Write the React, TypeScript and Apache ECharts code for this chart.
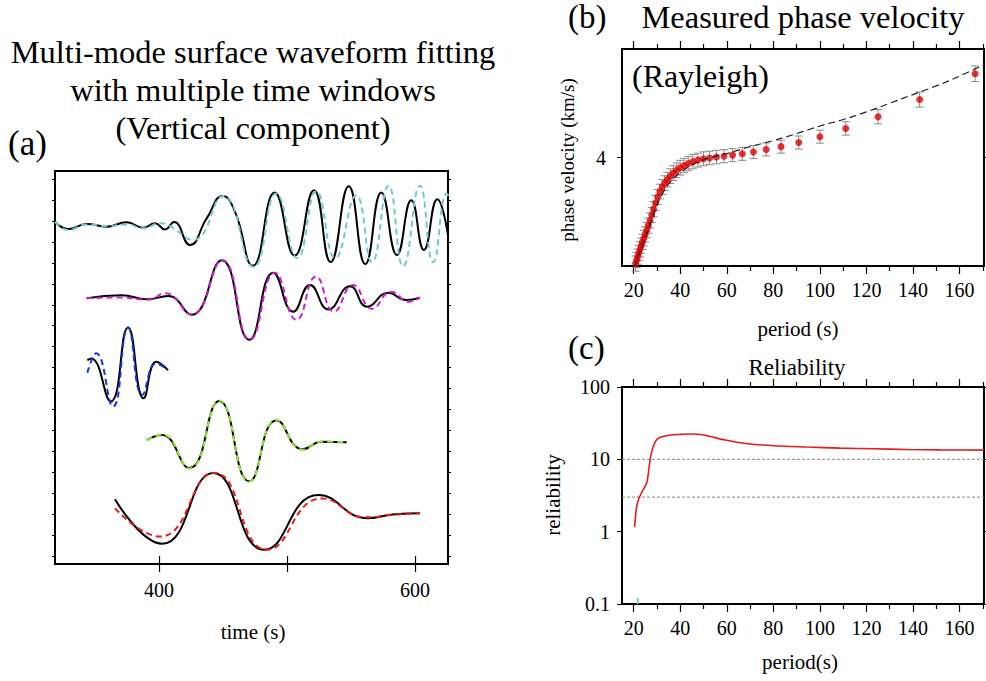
import React, { useEffect, useRef } from "react";
import * as echarts from "echarts";

const FONT = "Liberation Serif";

// ---------- Panel (a): waveforms ----------
const timeTicks = [400, 500, 600];
const timeLabels = [400, 600];
const traceYTicks = [0.38, 1.38, 2.38, 3.38, 4.38, 5.38, 6.38, 7.38, 8.38, 9.38, 10.38, 11.38, 12.38, 13.38, 14.38, 15.38, 16.38, 17.38, 18.38];
const traceBaselines = [16.33, 12.75, 9.31, 5.83, 2.39];
const traceColors = ["#6ccbce", "#cc1fcc", "#1434e6", "#8fe83c", "#e81a1a"];

const trace1Black = [[318.8, 0.01], [329.1, -0.33], [343.5, -0.09], [359.1, -0.22], [374.8, -0.01], [387.7, -0.27], [396.9, -0.06], [404.7, -0.35], [411.7, 0.01], [424.2, -1.09], [437.3, 0.18], [449.8, 1.25], [459.4, 0.49], [473.4, -2.09], [490.4, 1.41], [506.0, -1.6], [521.1, 1.52], [534.1, -1.91], [548.2, 1.71], [561.2, -2.01], [573.7, 1.41], [585.9, -1.57], [597.1, 1.04], [607.0, -1.33], [617.4, 1.09], [626.6, -0.93]];
const trace1Color = [[318.8, 0.01], [329.1, -0.38], [343.5, -0.11], [360.4, -0.19], [374.8, -0.11], [387.7, -0.3], [400.8, -0.06], [407.0, -0.14], [426.8, -0.85], [450.2, 1.25], [473.8, -2.14], [491.6, 1.36], [508.0, -1.72], [522.9, 1.47], [537.7, -1.72], [554.1, 1.28], [566.4, -1.91], [579.3, 1.74], [590.8, -2.11], [603.8, 1.74], [614.2, -1.92], [624.8, 1.36], [626.6, 1.2]];
const trace2Black = [[343.5, -0.06], [370.9, 0.09], [390.4, -0.11], [407.3, 0.05], [425.5, -0.85], [449.0, 1.76], [470.5, -2.04], [489.3, 1.16], [504.9, -0.7], [518.0, 0.57], [532.3, -0.59], [549.2, 0.52], [562.7, -0.46], [579.1, 0.21], [593.0, -0.14], [603.9, -0.03]];
const trace2Color = [[343.5, -0.06], [368.0, -0.02], [392.0, -0.12], [404.7, 0.18], [425.5, -0.83], [449.5, 1.76], [471.0, -2.04], [490.6, 1.16], [507.4, -1.09], [522.7, 0.98], [536.7, -0.7], [551.6, 0.57], [566.4, -0.56], [581.3, 0.25], [595.3, -0.22], [603.9, -0.03]];
const trace3Black = [[344.0, 0.43], [347.1, 0.51], [362.3, -1.55], [375.8, 1.98], [388.0, -1.39], [397.9, 0.35], [407.0, -0.05]];
const trace3Color = [[344.0, -0.18], [351.0, 0.75], [364.1, -1.79], [375.8, 1.98], [387.0, -1.23], [397.9, 0.27], [407.0, -0.05]];
const trace4Black = [[390.4, 0.09], [402.1, 0.33], [423.7, -1.25], [447.1, 1.96], [470.5, -1.88], [491.9, 1.04], [512.3, -0.35], [527.1, 0.01], [546.6, -0.01]];
const trace4Color = [[390.4, 0.07], [402.5, 0.36], [423.9, -1.27], [447.1, 1.98], [470.5, -1.9], [491.9, 1.06], [512.3, -0.37], [527.1, 0.02], [546.6, -0.01]];
const trace5Black = [[365.6, 0.7], [402.6, -1.42], [442.4, 1.96], [482.3, -1.71], [524.5, 0.9], [563.5, -0.2], [584.4, -0.01], [603.9, 0.03]];
const trace5Color = [[365.6, 0.27], [400.8, -1.08], [443.4, 1.96], [484.4, -1.71], [527.3, 0.74], [561.7, -0.16], [584.4, -0.03], [603.9, 0.03]];

const blackTraces = [trace1Black, trace2Black, trace3Black, trace4Black, trace5Black];
const colorTraces = [trace1Color, trace2Color, trace3Color, trace4Color, trace5Color];

// ---------- Panel (b): phase velocity ----------
const periodMajor = [20, 40, 60, 80, 100, 120, 140, 160];
const periodMinor = [30, 50, 70, 90, 110, 130, 150, 170];
const velocityTicks = [4];
const periods = [20.83, 21.28, 21.74, 22.22, 22.73, 23.26, 23.81, 24.39, 25.0, 25.64, 26.32, 27.03, 27.78, 28.57, 29.41, 30.3, 31.25, 32.26, 33.33, 34.48, 35.71, 37.04, 38.46, 40.0, 41.67, 43.48, 45.45, 47.62, 50.0, 52.63, 55.56, 58.82, 62.5, 66.67, 71.43, 76.92, 83.33, 90.91, 100.0, 111.11, 125.0, 142.86, 166.67];
const velocities = [3.511, 3.527, 3.543, 3.56, 3.577, 3.594, 3.611, 3.628, 3.646, 3.665, 3.686, 3.71, 3.735, 3.762, 3.79, 3.818, 3.843, 3.864, 3.882, 3.898, 3.914, 3.928, 3.941, 3.953, 3.963, 3.972, 3.981, 3.988, 3.994, 3.998, 4.002, 4.006, 4.011, 4.017, 4.025, 4.037, 4.05, 4.069, 4.096, 4.134, 4.188, 4.267, 4.386];
const velocityErrors = [0.035, 0.035, 0.035, 0.035, 0.035, 0.035, 0.035, 0.035, 0.035, 0.035, 0.035, 0.035, 0.035, 0.035, 0.035, 0.035, 0.034, 0.034, 0.034, 0.034, 0.034, 0.034, 0.034, 0.034, 0.033, 0.033, 0.033, 0.032, 0.032, 0.031, 0.031, 0.03, 0.03, 0.03, 0.03, 0.03, 0.03, 0.03, 0.03, 0.031, 0.033, 0.035, 0.036];
const modelPeriods = [20.5, 22, 24, 27, 30, 33, 36, 40, 45, 50, 55, 60, 70, 80, 90, 100, 110, 120, 130, 140, 150, 160, 170.5];
const modelVelocities = [3.49, 3.545, 3.6, 3.69, 3.78, 3.845, 3.89, 3.93, 3.965, 3.99, 4.005, 4.018, 4.05, 4.078, 4.11, 4.145, 4.175, 4.21, 4.25, 4.29, 4.33, 4.375, 4.428];

// ---------- Panel (c): reliability ----------
const reliabilityPeriods = [20.4, 21.3, 22.3, 23.7, 25.6, 26.6, 27.6, 29.4, 31.6, 37.3, 44.5, 50.2, 58.8, 68.8, 80.2, 94.5, 108.8, 123.1, 137.5, 151.8, 170.5];
const reliabilityValues = [1.15, 2.24, 2.92, 3.6, 4.7, 7.6, 12.2, 17.7, 20.3, 21.9, 22.4, 21.7, 18.6, 16.4, 15.4, 14.8, 14.3, 14.0, 13.7, 13.5, 13.4];
const reliabilityThresholds = [10, 3];
const secondModePeriods = [21.8, 21.8];
const secondModeValues = [0.1, 0.12];

const PMIN = 15;
const PMAX = 170.5;

function tickOnlyX(gridIndex: number, position: string, min: number, max: number, ticks: number[], len: number, labels?: number[], margin = 14) {
  return {
    type: "value",
    gridIndex,
    position,
    min,
    max,
    axisLine: { show: false },
    axisTick: { show: true, customValues: ticks, length: len, inside: false, lineStyle: { color: "#000", width: 1.2 } },
    axisLabel: labels
      ? { show: true, customValues: labels, color: "#000", fontFamily: FONT, fontSize: 20, margin }
      : { show: false },
    splitLine: { show: false },
  };
}

export default function App() {
  const ref = useRef<HTMLDivElement>(null);

  useEffect(() => {
    if (!ref.current) return;
    const chart = echarts.init(ref.current, undefined, { renderer: "svg" });

    const grids = [
      { left: 55, top: 171, width: 393, height: 393, show: true, borderColor: "#000", borderWidth: 2, backgroundColor: "transparent" },
      { left: 622, top: 49, width: 362, height: 217, show: true, borderColor: "#000", borderWidth: 2, backgroundColor: "transparent" },
      { left: 622, top: 387, width: 362, height: 217, show: true, borderColor: "#000", borderWidth: 2, backgroundColor: "transparent" },
    ];

    const xAxis: any[] = [
      tickOnlyX(0, "bottom", 318.75, 625.8, timeTicks, 8, timeLabels, 16),
      tickOnlyX(0, "top", 318.75, 625.8, timeTicks, 8),
      tickOnlyX(1, "bottom", PMIN, PMAX, periodMajor, 8, periodMajor, 14),
      tickOnlyX(1, "bottom", PMIN, PMAX, periodMinor, 5),
      tickOnlyX(1, "top", PMIN, PMAX, periodMajor, 8),
      tickOnlyX(1, "top", PMIN, PMAX, periodMinor, 5),
      tickOnlyX(2, "bottom", PMIN, PMAX, periodMajor, 8, periodMajor, 14),
      tickOnlyX(2, "bottom", PMIN, PMAX, periodMinor, 5),
      tickOnlyX(2, "top", PMIN, PMAX, periodMajor, 8),
      tickOnlyX(2, "top", PMIN, PMAX, periodMinor, 5),
    ];

    const yAxis: any[] = [
      {
        type: "value", gridIndex: 0, position: "left", min: 0, max: 18.77,
        axisLine: { show: false },
        axisTick: { show: true, customValues: traceYTicks, length: 3, lineStyle: { color: "#000" } },
        axisLabel: { show: false }, splitLine: { show: false },
      },
      {
        type: "value", gridIndex: 0, position: "right", min: 0, max: 18.77,
        axisLine: { show: false },
        axisTick: { show: true, customValues: traceYTicks, length: 3, lineStyle: { color: "#000" } },
        axisLabel: { show: false }, splitLine: { show: false },
      },
      {
        type: "value", gridIndex: 1, position: "left", min: 3.5, max: 4.5,
        axisLine: { show: false },
        axisTick: { show: true, customValues: velocityTicks, length: 5, lineStyle: { color: "#000" } },
        axisLabel: { show: true, customValues: velocityTicks, color: "#000", fontFamily: FONT, fontSize: 20, margin: 16 },
        splitLine: { show: false },
      },
      {
        type: "value", gridIndex: 1, position: "right", min: 3.5, max: 4.5,
        axisLine: { show: false },
        axisTick: { show: true, customValues: velocityTicks, length: 5, lineStyle: { color: "#000" } },
        axisLabel: { show: false }, splitLine: { show: false },
      },
      {
        type: "log", logBase: 10, gridIndex: 2, position: "left", min: 0.1, max: 100,
        axisLine: { show: false },
        axisTick: { show: true, length: 5, lineStyle: { color: "#000" } },
        axisLabel: {
          show: true, color: "#000", fontFamily: FONT, fontSize: 20, margin: 12,
          formatter: (v: number) => (v < 1 ? v.toFixed(1) : String(Math.round(v))),
        },
        splitLine: { show: false },
      },
      {
        type: "log", logBase: 10, gridIndex: 2, position: "right", min: 0.1, max: 100,
        axisLine: { show: false },
        axisTick: { show: true, length: 5, lineStyle: { color: "#000" } },
        axisLabel: { show: false }, splitLine: { show: false },
      },
    ];

    const series: any[] = [];
    blackTraces.forEach((tr, i) => {
      series.push({
        type: "line", xAxisIndex: 0, yAxisIndex: 0, smooth: 0.5, showSymbol: false, silent: true,
        data: tr.map(([t, a]) => [t, traceBaselines[i] + a]),
        lineStyle: { color: "#000", width: 2 },
      });
    });
    colorTraces.forEach((tr, i) => {
      series.push({
        type: "line", xAxisIndex: 0, yAxisIndex: 0, smooth: 0.5, showSymbol: false, silent: true,
        data: tr.map(([t, a]) => [t, traceBaselines[i] + a]),
        lineStyle: { color: traceColors[i], width: 2, type: [6, 4] },
      });
    });

    // Panel (b)
    series.push({
      type: "custom", xAxisIndex: 2, yAxisIndex: 2, silent: true,
      data: periods.map((p, i) => [p, velocities[i] - velocityErrors[i], velocities[i] + velocityErrors[i]]),
      encode: { x: 0, y: [1, 2] },
      renderItem: (_params: any, api: any) => {
        const x = api.value(0);
        const lo = api.coord([x, api.value(1)]);
        const hi = api.coord([x, api.value(2)]);
        const w = 4;
        const style = { stroke: "#8a8a8a", lineWidth: 1, fill: null };
        return {
          type: "group",
          children: [
            { type: "line", shape: { x1: lo[0], y1: lo[1], x2: hi[0], y2: hi[1] }, style },
            { type: "line", shape: { x1: lo[0] - w, y1: lo[1], x2: lo[0] + w, y2: lo[1] }, style },
            { type: "line", shape: { x1: hi[0] - w, y1: hi[1], x2: hi[0] + w, y2: hi[1] }, style },
          ],
        };
      },
    });
    series.push({
      type: "line", xAxisIndex: 2, yAxisIndex: 2, smooth: 0.4, showSymbol: false, silent: true,
      data: modelPeriods.map((p, i) => [p, modelVelocities[i]]),
      lineStyle: { color: "#222", width: 1.2, type: [7, 4] },
    });
    series.push({
      type: "scatter", xAxisIndex: 2, yAxisIndex: 2, silent: true, symbolSize: 7,
      data: periods.map((p, i) => [p, velocities[i]]),
      itemStyle: { color: "#e00000" },
    });

    // Panel (c)
    reliabilityThresholds.forEach((th) => {
      series.push({
        type: "line", xAxisIndex: 6, yAxisIndex: 4, showSymbol: false, silent: true,
        data: [[PMIN, th], [PMAX, th]],
        lineStyle: { color: "#888", width: 1, type: [3, 2] },
      });
    });
    series.push({
      type: "line", xAxisIndex: 6, yAxisIndex: 4, smooth: 0.3, showSymbol: false, silent: true,
      data: reliabilityPeriods.map((p, i) => [p, reliabilityValues[i]]),
      lineStyle: { color: "#e81a1a", width: 1.6 },
    });
    series.push({
      type: "line", xAxisIndex: 6, yAxisIndex: 4, showSymbol: false, silent: true,
      data: secondModePeriods.map((p, i) => [p, secondModeValues[i]]),
      lineStyle: { color: "#6ccbce", width: 2 },
    });

    const txt = (text: string, x: number, y: number, size: number, align = "center", rotation = 0) => ({
      type: "text", x, y, rotation, silent: true,
      style: { text, fill: "#000", font: `${size}px "${FONT}"`, textAlign: align, textVerticalAlign: "middle", align, verticalAlign: "middle" },
    });

    const graphic = [
      txt("Multi-mode surface waveform fitting", 253, 52, 32.5),
      txt("with multiple time windows", 253, 90, 32.5),
      txt("(Vertical component)", 253, 128, 32.5),
      txt("(a)", 8, 143, 35, "left"),
      txt("time (s)", 253, 632, 21),
      txt("(b)", 568, 17, 33, "left"),
      txt("Measured phase velocity", 803, 17, 32.5),
      txt("(Rayleigh)", 632, 76, 32, "left"),
      txt("phase velocity (km/s)", 567, 160, 19, "center", Math.PI / 2),
      txt("period (s)", 798, 329, 21),
      txt("(c)", 568, 348, 33, "left"),
      txt("Reliability", 797, 367, 23),
      txt("reliability", 553, 495, 21, "center", Math.PI / 2),
      txt("period(s)", 800, 662, 21),
    ];

    chart.setOption({
      animation: false,
      backgroundColor: "#fff",
      textStyle: { fontFamily: FONT },
      grid: grids,
      xAxis,
      yAxis,
      series,
      graphic,
    });

    return () => chart.dispose();
  }, []);

  return <div ref={ref} style={{ position: "absolute", left: 0, top: 0, width: 986, height: 681 }} />;
}
